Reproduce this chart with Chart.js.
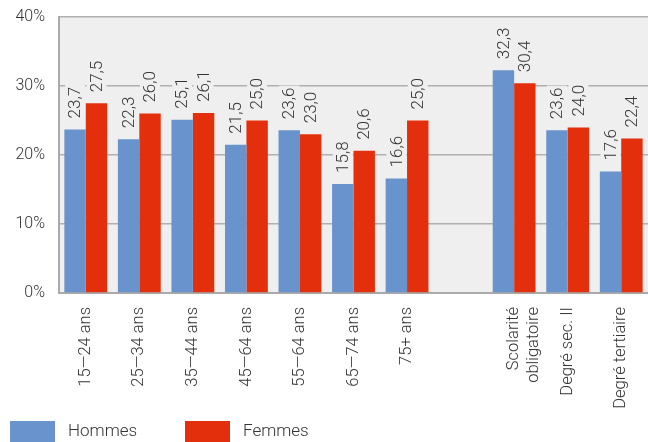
<!DOCTYPE html>
<html><head><meta charset="utf-8">
<script src="https://cdn.jsdelivr.net/npm/chart.js@4"></script>
<style>html,body{margin:0;padding:0;background:#fff}#wrap{width:648px;height:442px}</style>
</head><body><div id="wrap"><canvas id="c" width="648" height="442"></canvas></div>
<script>
const categories = ['15—24 ans','25—34 ans','35—44 ans','45—64 ans','55—64 ans','65—74 ans','75+ ans','',['Scolarité','obligatoire'],'Degré sec. II','Degré tertiaire'];
const hommes = [23.7,22.3,25.1,21.5,23.6,15.8,16.6,null,32.3,23.6,17.6];
const femmes = [27.5,26.0,26.1,25.0,23.0,20.6,25.0,null,30.4,24.0,22.4];
const yTicks = [0,10,20,30,40];
const seriesNames = ['Hommes','Femmes'];
const colors = ['#6893CC','#E42F0C'];
const PLOT_BG = '#efefef';
const FONT = 'Roboto';

const bgPlugin = {
  id:'bg',
  beforeDraw(chart){
    const {ctx, chartArea:a} = chart;
    ctx.save(); ctx.fillStyle = PLOT_BG;
    ctx.fillRect(a.left, a.top, a.right-a.left, a.bottom-a.top);
    ctx.restore();
  }
};
const labelPlugin = {
  id:'vals',
  afterDatasetsDraw(chart){
    const ctx = chart.ctx;
    ctx.save();
    ctx.font = '300 17px ' + FONT;
    ctx.textBaseline = 'middle';
    ctx.textAlign = 'left';
    chart.data.datasets.forEach((ds, di) => {
      const meta = chart.getDatasetMeta(di);
      meta.data.forEach((bar, i) => {
        const v = ds.data[i];
        if (v == null) return;
        const txt = v.toFixed(1).replace('.', ',');
        ctx.save();
        ctx.translate(bar.x, bar.y - 11);
        ctx.rotate(-Math.PI/2);
        const w = ctx.measureText(txt).width;
        ctx.fillStyle = PLOT_BG;
        ctx.fillRect(-1, -10, w + 3, 20);
        ctx.fillStyle = '#333';
        ctx.fillText(txt, 0, 1);
        ctx.restore();
      });
    });
    ctx.restore();
  }
};
const legendPlugin = {
  id:'leg',
  afterDraw(chart){
    const ctx = chart.ctx;
    const xs = [10, 185];
    ctx.save();
    ctx.font = '300 17px ' + FONT;
    ctx.textBaseline = 'middle';
    ctx.textAlign = 'left';
    chart.data.datasets.forEach((ds, i) => {
      ctx.fillStyle = ds.backgroundColor;
      ctx.fillRect(xs[i], 421, 45, 21);
      ctx.fillStyle = '#333';
      ctx.fillText(ds.label, xs[i] + 58, 432);
    });
    ctx.restore();
  }
};

new Chart(document.getElementById('c'), {
  type:'bar',
  data:{
    labels: categories,
    datasets:[
      {label: seriesNames[0], data: hommes, backgroundColor: colors[0], categoryPercentage:0.8, barPercentage:1},
      {label: seriesNames[1], data: femmes, backgroundColor: colors[1], categoryPercentage:0.8, barPercentage:1}
    ]
  },
  options:{
    responsive:false, animation:false, devicePixelRatio:1,
    layout:{padding:{top:17,left:0,right:0,bottom:0}},
    plugins:{legend:{display:false}, tooltip:{enabled:false}},
    scales:{
      x:{
        grid:{display:false},
        border:{color:'#aaa', width:2},
        ticks:{color:'#333', font:{family:FONT, size:16.5, weight:300}, minRotation:90, maxRotation:90, autoSkip:false, padding:6},
        afterFit(s){ s.height = 149; }
      },
      y:{
        min:0, max:40,
        afterBuildTicks(s){ s.ticks = yTicks.map(v => ({value:v})); },
        grid:{color:'#b0b0b0', lineWidth:1.5, drawTicks:false},
        border:{color:'#aaa', width:2},
        ticks:{color:'#333', font:{family:FONT, size:16, weight:300}, padding:14, callback:v => v + '%'},
        afterFit(s){ s.width = 59; s.paddingTop = 0; s.paddingBottom = 0; }
      }
    }
  },
  plugins:[bgPlugin, labelPlugin, legendPlugin]
});
</script></body></html>
